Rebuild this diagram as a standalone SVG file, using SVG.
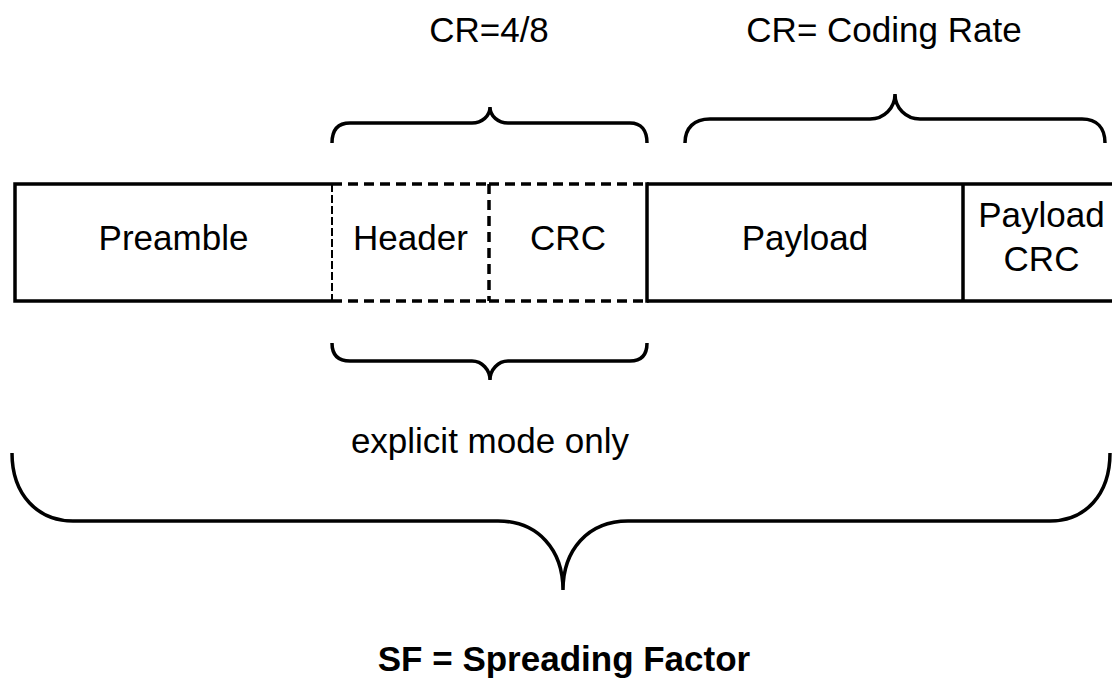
<svg xmlns="http://www.w3.org/2000/svg" width="1112" height="682" viewBox="0 0 1112 682">
<style>
.t{font-family:"Liberation Sans",Arial,sans-serif;font-size:35px;fill:#000;text-anchor:middle}
.b{font-weight:bold}
.s{fill:none;stroke:#000;stroke-width:3.5}
.d{fill:none;stroke:#000;stroke-width:3.5;stroke-dasharray:10 6}
.dt{fill:none;stroke:#000;stroke-width:2;stroke-dasharray:8 3}
.br{fill:none;stroke:#000;stroke-width:3.5;stroke-linecap:butt}
</style>
<rect width="1112" height="682" fill="#fff"/>
<g id="preamble">
<path class="s" d="M332,184 H15 V301 H332"/>
<text class="t" x="173.5" y="250">Preamble</text>
</g>
<g id="header">
<path class="d" d="M332,184 H489 M332,301 H489"/>
<path class="dt" d="M332,184 V301"/>
<text class="t" x="410.5" y="250">Header</text>
</g>
<g id="crc">
<path class="d" d="M489,184 H647 M489,301 H647"/>
<path class="d" d="M489,184 V301"/>
<path class="s" d="M647,182.25 V302.75"/>
<text class="t" x="568" y="250">CRC</text>
</g>
<g id="payload">
<path class="s" d="M647,184 H963 M647,301 H963"/>
<text class="t" x="805" y="250">Payload</text>
</g>
<g id="payload-crc">
<path class="s" d="M963,184 H1115 M963,301 H1115 M963,184 V301"/>
<text class="t" x="1041.5" y="227">Payload</text>
<text class="t" x="1041.5" y="271">CRC</text>
</g>
<g id="connectors">
<path class="br" d="M332,143 C332,130 338,123 350,123 L472,123 C482,123 490,116 490,107 C490,116 498,123 508,123 L630,123 C641,123 647,130 647,143"/>
<path class="br" d="M685,143 C685,128 694,119 710,119 L870,119 C884,119 895,108 895,94 C895,108 906,119 920,119 L1082,119 C1097,119 1105,128 1105,143"/>
<path class="br" d="M332,343 C332,355 338,361 350,361 L472,361 C482,361 490,370 490,380 C490,370 498,361 508,361 L630,361 C641,361 647,355 647,343"/>
<path class="br" d="M12,453 C12,495 38,521 73,521 L498,521 C538,521 563,550 563,590 C563,550 588,521 628,521 L1050,521 C1085,521 1110,495 1110,453"/>
</g>
<g id="labels">
<text class="t" x="489" y="42">CR=4/8</text>
<text class="t" x="884" y="42">CR= Coding Rate</text>
<text class="t" x="490" y="453">explicit mode only</text>
<text class="t b" x="564" y="671">SF = Spreading Factor</text>
</g>
</svg>
